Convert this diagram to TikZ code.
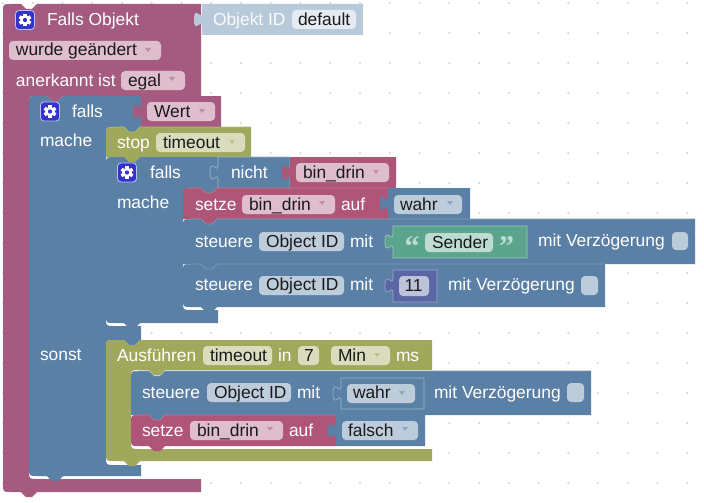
\documentclass[tikz,border=0pt]{standalone}
\usepackage{fontspec}
\setmainfont{Liberation Sans}
\newfontfamily\quotefont{Liberation Serif}
\definecolor{pur}{HTML}{A55B80}
\definecolor{rdp}{HTML}{AE5578}
\definecolor{blu}{HTML}{5B80A5}
\definecolor{oli}{HTML}{A0A85B}
\definecolor{grn}{HTML}{5BA58C}
\definecolor{num}{HTML}{5B67A5}
\definecolor{shd}{HTML}{B8C9DA}
\definecolor{fpur}{HTML}{DEBDCC}
\definecolor{fblu}{HTML}{BDCCDB}
\definecolor{foli}{HTML}{DADDBD}
\definecolor{fgrn}{HTML}{BDDBD1}
\definecolor{fnum}{HTML}{BDC2DB}
\definecolor{fshd}{HTML}{E4EBF2}
\definecolor{txt}{HTML}{1A1A1A}
\definecolor{icn}{HTML}{3333CC}
\newcount\nc
\newcommand\stepnc{\global\advance\nc by 1\relax}
% notch pieces; the y axis points down
\newcommand\dent{-- ++(5,5) -- ++(6,0) -- ++(5,-5)}
\newcommand\btab{-- ++(-5,5) -- ++(-6,0) -- ++(-5,-5)}
% knob(L,Y): puzzle connector on a left edge, running downwards
\newcommand\knob[2]{-- (#1,#2) .. controls ({#1},{#2+10}) and ({#1-8},{#2-8}) .. ({#1-8},{#2+7.5}) .. controls ({#1-8},{#2+23}) and ({#1},{#2+5}) .. ({#1},{#2+15})}
% statement block: colour, L,T,R,B
\newcommand\stm[5]{%
  \fill[#1] ({#2},{#3+8}) .. controls ({#2},#3) .. ({#2+8},#3) -- ({#2+18},#3) \dent -- (#4,#3) -- (#4,#5) -- ({#2+34},#5) \btab -- (#2,#5) -- cycle;
  \draw[hl,#1!78!white] ({#2+4},{#3+1}) -- ({#2+8},#3) -- ({#2+18},#3) \dent -- (#4,#3);}
% statement block whose lower left corner is round
\newcommand\stmr[5]{%
  \fill[#1] ({#2},{#3+8}) .. controls ({#2},#3) .. ({#2+8},#3) -- ({#2+18},#3) \dent -- (#4,#3) -- (#4,#5) -- ({#2+34},#5) \btab -- ({#2+8},#5) .. controls (#2,#5) .. ({#2},{#5-8}) -- cycle;
  \draw[hl,#1!78!white] ({#2+4},{#3+1}) -- ({#2+8},#3) -- ({#2+18},#3) \dent -- (#4,#3);}
% value block: colour, L,T,R,B
\newcommand\val[5]{\fill[#1] (#2,#3) \knob{#2}{#3+8} -- (#2,#5) -- (#4,#5) -- (#4,#3) -- cycle;}
% inset value block with light outline
\newcommand\vall[5]{\filldraw[fill=#1,draw=#1!60!white,hl] (#2,#3) \knob{#2}{#3+8} -- (#2,#5) -- (#4,#5) -- (#4,#3) -- cycle;}
% text: x, baseline, colour, text
\newcommand\lbl[4]{\stepnc\node[lab,text=#3] (n\the\nc) at (#1,#2) {#4};}
% field: fill, L,T,R,B, text x, baseline, text
\newcommand\fld[8]{\fill[#1,rounded corners=4pt] (#2,#3) rectangle (#4,#5); \stepnc\node[lab,text=txt] (n\the\nc) at (#6,#7) {#8};}
% dropdown arrow: x, y, colour
\newcommand\arr[3]{\fill[#3] ({#1-3},{#2-2}) -- ({#1+3},{#2-2}) -- (#1,{#2+2}) -- cycle;}
% gear icon: L,T
\newcommand\icon[2]{%
  \begin{scope}[shift={(#1,#2)}]
  \filldraw[fill=icn,draw=white!75!blue,line width=0.8pt,rounded corners=3.5pt] (0,0) rectangle (19,19);
  \fill[white] (9.5,9.5) circle (4.8);
  \foreach \a in {0,60,...,300}{\fill[white,shift={(9.5,9.5)},rotate=\a] (-1.7,-6.4) rectangle (1.7,0);}
  \fill[icn] (9.5,9.5) circle (2.1);
  \end{scope}}
\tikzset{lab/.style={anchor=base west,inner sep=0pt,outer sep=0pt,font=\fontsize{17.4}{20}\selectfont},
  hl/.style={line width=0.7pt},
  griddot/.style={fill=black!18}}
\begin{document}
\begin{tikzpicture}[x=1pt,y=-1pt]
\useasboundingbox (0,0) rectangle (704,503);
\fill[white] (0,0) rectangle (704,503);
% workspace grid
\foreach \i in {0,...,23}{\foreach \j in {0,...,16}{\fill[griddot] ({3+29.75*\i},{3+30*\j}) circle (1.1);}}
% Falls Objekt
\fill[pur] (3,12) .. controls (3,4) .. (11,4) -- (21,4) \dent -- (201,4) -- (201,96) -- (63,96) \btab -- (37,96) .. controls (29,96) .. (29,104) -- (29,471) .. controls (29,479) .. (37,479) -- (201,479) -- (201,492) -- (37,492) \btab -- (11,492) .. controls (3,492) .. (3,484) -- cycle;
\val{shd}{202}{4}{363}{35}
\icon{15.5}{10.5}
\lbl{47}{25.5}{white}{Falls Objekt}
\lbl{213}{25.5}{white!92!shd}{Objekt ID}
\fld{fshd}{292}{10}{356}{29}{298}{25.5}{default}
\fld{fpur}{9}{41}{161}{60}{16}{56}{wurde geändert}
\arr{148}{50}{pur!70!white}
\lbl{16}{86}{white}{anerkannt ist}
\fld{fpur}{121}{71}{185}{90}{128}{86}{egal}
\arr{172}{79}{pur!70!white}
% falls 1
\fill[blu] (29,104) .. controls (29,96) .. (37,96) -- (47,96) \dent -- (141,96) -- (141,127) -- (140,127) \btab -- (114,127) .. controls (106,127) .. (106,135) -- (106,318) .. controls (106,326) .. (114,326) -- (124,326) -- (141,326) -- (141,340) -- (140,340) \btab -- (114,340) .. controls (106,340) .. (106,348) -- (106,457) .. controls (106,465) .. (114,465) -- (141,465) -- (141,476) -- (63,476) \btab -- (37,476) .. controls (29,476) .. (29,468) -- cycle;
\val{pur}{141}{96}{221}{127}
\icon{40.5}{102}
\lbl{72}{117}{white}{falls}
\fld{fpur}{147}{102}{215}{121}{154}{117}{Wert}
\arr{202}{111}{pur!70!white}
\lbl{40}{146}{white}{mache}
\lbl{40}{360}{white}{sonst}
% stop
\stm{oli}{106}{127}{251}{157}
\lbl{117}{148}{white}{stop}
\fld{foli}{156}{133}{245}{152}{163}{148}{timeout}
\arr{232}{142}{oli!70!white}
% falls 2
\fill[blu] (106,165) .. controls (106,157) .. (114,157) -- (124,157) \dent -- (218,157) -- (218,189) -- (217,189) \btab -- (191,189) .. controls (183,189) .. (183,197) -- (183,302) .. controls (183,310) .. (191,310) -- (218,310) -- (218,323) -- (140,323) \btab -- (114,323) .. controls (106,323) .. (106,315) -- cycle;
\icon{117.5}{163}
\lbl{150}{178}{white}{falls}
\lbl{117}{208}{white}{mache}
\vall{blu}{218}{157}{290}{189}
\lbl{231}{178}{white}{nicht}
\val{rdp}{290}{157}{396}{188}
\fld{fpur}{296}{163}{389}{182}{303}{178}{bin\_drin}
\arr{376}{172}{pur!70!white}
% setze
\stm{rdp}{183}{188}{388}{219}
\lbl{195}{210}{white}{setze}
\fld{fpur}{242}{195}{335}{214}{249}{210}{bin\_drin}
\arr{322}{203}{pur!70!white}
\lbl{341}{210}{white}{auf}
\val{blu}{388}{188}{470}{219}
\fld{fblu}{394}{195}{462}{214}{400}{210}{wahr}
\arr{450}{203}{blu!70!white}
% steuere 1
\stm{blu}{183}{219}{695}{264}
\lbl{195}{247}{white}{steuere}
\fld{fblu}{259}{232}{344}{251}{266}{247}{Object ID}
\lbl{350}{247}{white}{mit}
\vall{grn}{393}{226}{527}{258}
\stepnc\node[lab,text=fgrn] (n\the\nc) at (404.5,256) {\quotefont\fontsize{30}{30}\selectfont\bfseries “};
\fld{fgrn}{425}{233}{493}{252}{432}{248}{Sender}
\stepnc\node[lab,text=fgrn] (n\the\nc) at (499,256) {\quotefont\fontsize{30}{30}\selectfont\bfseries ”};
\lbl{538}{246}{white}{mit Verzögerung}
\fill[fblu,rounded corners=4pt] (672,232) rectangle (688,250);
% steuere 2
\stmr{blu}{183}{264}{605}{307}
\lbl{195}{290.5}{white}{steuere}
\fld{fblu}{259}{276}{344}{295}{266}{290.5}{Object ID}
\lbl{350}{290.5}{white}{mit}
\vall{num}{393}{270}{437}{302}
\fld{fnum}{399}{276}{429}{296}{404.5}{291.5}{11}
\lbl{448}{290}{white}{mit Verzögerung}
\fill[fblu,rounded corners=4pt] (581,276) rectangle (598,295);
% Ausfuehren
\fill[oli] (106,348) .. controls (106,340) .. (114,340) -- (124,340) \dent -- (432,340) -- (432,370) -- (165,370) \btab -- (139,370) .. controls (131,370) .. (131,378) -- (131,441) .. controls (131,449) .. (139,449) -- (432,449) -- (432,461) -- (140,461) \btab -- (114,461) .. controls (106,461) .. (106,453) -- cycle;
\lbl{117}{361}{white}{Ausführen}
\fld{foli}{203}{346}{272}{365}{210}{361}{timeout}
\lbl{278}{361}{white}{in}
\fld{foli}{298}{346}{319}{365}{304}{361}{7}
\fld{foli}{331}{346}{390}{365}{338}{361}{Min}
\arr{377}{355}{oli!70!white}
\lbl{396}{361}{white}{ms}
% steuere 3
\stm{blu}{131}{371}{591}{415}
\lbl{142}{398}{white}{steuere}
\fld{fblu}{207}{383}{291}{402}{214}{398}{Object ID}
\lbl{297}{398}{white}{mit}
\vall{blu}{341}{378}{424}{409}
\fld{fblu}{347}{384}{415}{403}{353}{398.5}{wahr}
\arr{402}{393}{blu!70!white}
\lbl{434}{398}{white}{mit Verzögerung}
\fill[fblu,rounded corners=4pt] (567,383) rectangle (584,402);
% setze 2
\stmr{rdp}{131}{415}{336}{446}
\lbl{142}{436}{white}{setze}
\fld{fpur}{190}{421}{283}{440}{197}{436}{bin\_drin}
\arr{270}{429}{pur!70!white}
\lbl{289}{436}{white}{auf}
\val{blu}{336}{415}{425}{446}
\fld{fblu}{342}{421}{418}{440}{348}{436}{falsch}
\arr{405}{429}{blu!70!white}
\end{tikzpicture}
\end{document}
